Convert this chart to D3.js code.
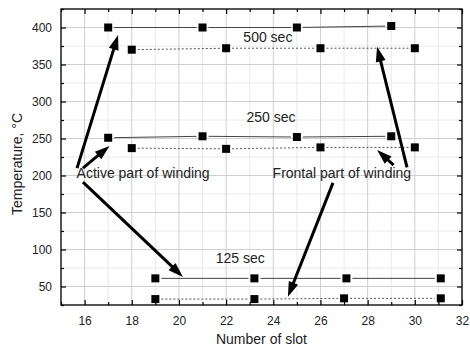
<!DOCTYPE html>
<html>
<head>
<meta charset="utf-8">
<script src="https://cdn.jsdelivr.net/npm/d3@7"></script>
<style>
  body { margin: 0; background: #fff; }
  svg { display: block; font-family: "Liberation Sans", Arial, sans-serif; }
</style>
</head>
<body>
<svg id="chart" width="470" height="347"></svg>
<script>
// slots and temperatures
const slotsActive = [17, 21, 25, 29];
const slotsFrontal = [18, 22, 26, 30];
const slots125Active = [19, 23.2, 27.1, 31.1];
const slots125Frontal = [19, 23.2, 27, 31.1];

const temp500Active = [400, 400, 400, 402];
const temp500Frontal = [370, 372, 372, 372];
const temp250Active = [251, 253, 252, 253];
const temp250Frontal = [237, 236, 238, 238];
const temp125Active = [61, 61, 61, 61];
const temp125Frontal = [33, 33, 34, 34];

const xTicks = [16, 18, 20, 22, 24, 26, 28, 30, 32];
const yTicks = [50, 100, 150, 200, 250, 300, 350, 400];

const series = [
  { xs: slotsActive, ys: temp500Active, dashed: false },
  { xs: slotsFrontal, ys: temp500Frontal, dashed: true },
  { xs: slotsActive, ys: temp250Active, dashed: false },
  { xs: slotsFrontal, ys: temp250Frontal, dashed: true },
  { xs: slots125Active, ys: temp125Active, dashed: false },
  { xs: slots125Frontal, ys: temp125Frontal, dashed: true },
];

// annotations in data units: [x, y, text]
const labels = [
  [23.77, 380, '500 sec', 'middle'],
  [23.9, 272, '250 sec', 'middle'],
  [22.6, 82, '125 sec', 'middle'],
  [15.66, 196.5, 'Active part of winding', 'start'],
  [23.97, 196.5, 'Frontal part of winding', 'start'],
];

// arrows in data units: tail -> tip
const arrows = [
  [15.68, 210, 17.42, 390],
  [15.93, 210, 17.06, 240],
  [15.93, 191, 20.17, 63],
  [29.67, 211, 28.4, 374],
  [29.1, 214, 28.4, 234.5],
  [26.53, 190, 24.62, 36],
];

const margin = { top: 9, right: 8, bottom: 42, left: 61 };
const width = 470, height = 347;

const svg = d3.select('#chart');

const x = d3.scaleLinear().domain([15, 32]).range([margin.left, width - margin.right]);
const y = d3.scaleLinear().domain([25, 425]).range([height - margin.bottom, margin.top]);

const [x0, x1] = x.range();
const [y0, y1] = y.range();

// grid, minor first then major
const minorX = d3.range(15, 33, 1).filter(v => v % 2 !== 0);
const minorY = d3.range(25, 426, 25).filter(v => v % 50 !== 0);

const grid = svg.append('g');
grid.selectAll('.mx').data(minorX).join('line')
  .attr('x1', d => x(d)).attr('x2', d => x(d)).attr('y1', y0).attr('y2', y1)
  .attr('stroke', '#eaeaea').attr('stroke-width', 1);
grid.selectAll('.my').data(minorY).join('line')
  .attr('y1', d => y(d)).attr('y2', d => y(d)).attr('x1', x0).attr('x2', x1)
  .attr('stroke', '#eaeaea').attr('stroke-width', 1);
grid.selectAll('.gx').data(xTicks).join('line')
  .attr('x1', d => x(d)).attr('x2', d => x(d)).attr('y1', y0).attr('y2', y1)
  .attr('stroke', '#cfcfcf').attr('stroke-width', 1);
grid.selectAll('.gy').data(yTicks).join('line')
  .attr('y1', d => y(d)).attr('y2', d => y(d)).attr('x1', x0).attr('x2', x1)
  .attr('stroke', '#cfcfcf').attr('stroke-width', 1);

// axes: ticks pointing in, on all four sides
const tickFmt = d3.format('d');
const axisStyle = g => {
  g.select('.domain').remove();
  g.selectAll('.tick line').attr('stroke', '#000').attr('stroke-width', 1.2);
  g.selectAll('.tick text').attr('font-size', 12).attr('fill', '#222')
    .attr('font-family', '"Liberation Sans", Arial, sans-serif');
};

svg.append('g').attr('transform', `translate(0,${y0})`)
  .call(d3.axisBottom(x).tickValues(xTicks).tickFormat(tickFmt).tickSizeInner(-5).tickPadding(11))
  .call(axisStyle);
svg.append('g').attr('transform', `translate(0,${y0})`)
  .call(d3.axisBottom(x).tickValues(minorX).tickFormat('').tickSizeInner(-3))
  .call(axisStyle);
svg.append('g').attr('transform', `translate(0,${y1})`)
  .call(d3.axisTop(x).tickValues(xTicks).tickFormat('').tickSizeInner(-5))
  .call(axisStyle);
svg.append('g').attr('transform', `translate(0,${y1})`)
  .call(d3.axisTop(x).tickValues(minorX).tickFormat('').tickSizeInner(-3))
  .call(axisStyle);
svg.append('g').attr('transform', `translate(${x0},0)`)
  .call(d3.axisLeft(y).tickValues(yTicks).tickFormat(tickFmt).tickSizeInner(-5).tickPadding(9))
  .call(axisStyle);
svg.append('g').attr('transform', `translate(${x0},0)`)
  .call(d3.axisLeft(y).tickValues(minorY).tickFormat('').tickSizeInner(-3))
  .call(axisStyle);
svg.append('g').attr('transform', `translate(${x1},0)`)
  .call(d3.axisRight(y).tickValues(yTicks).tickFormat('').tickSizeInner(-5))
  .call(axisStyle);
svg.append('g').attr('transform', `translate(${x1},0)`)
  .call(d3.axisRight(y).tickValues(minorY).tickFormat('').tickSizeInner(-3))
  .call(axisStyle);

// frame
svg.append('rect')
  .attr('x', x0).attr('y', y1).attr('width', x1 - x0).attr('height', y0 - y1)
  .attr('fill', 'none').attr('stroke', '#000').attr('stroke-width', 1.3);

// lines with a small gap at each symbol
const gap = 6;
series.forEach(s => {
  const pts = s.xs.map((v, i) => [x(v), y(s.ys[i])]);
  const segs = d3.pairs(pts).map(([a, b]) => {
    const dx = b[0] - a[0], dy = b[1] - a[1];
    const len = Math.hypot(dx, dy);
    const ux = dx / len, uy = dy / len;
    return [a[0] + ux * gap, a[1] + uy * gap, b[0] - ux * gap, b[1] - uy * gap];
  });
  svg.append('g').selectAll('line').data(segs).join('line')
    .attr('x1', d => d[0]).attr('y1', d => d[1])
    .attr('x2', d => d[2]).attr('y2', d => d[3])
    .attr('stroke', s.dashed ? '#555' : '#444')
    .attr('stroke-width', 1)
    .attr('stroke-dasharray', s.dashed ? '2,2' : null);

  svg.append('g').selectAll('rect').data(pts).join('rect')
    .attr('x', d => d[0] - 4).attr('y', d => d[1] - 4)
    .attr('width', 8).attr('height', 8)
    .attr('fill', '#000');
});

// text labels
svg.append('g').selectAll('text').data(labels).join('text')
  .attr('x', d => x(d[0])).attr('y', d => y(d[1]))
  .attr('text-anchor', d => d[3])
  .attr('font-size', 14).attr('fill', '#222')
  .text(d => d[2]);

// arrows
const headLen = 15, headHalf = 5;
const ag = svg.append('g');
arrows.forEach(a => {
  const tx = x(a[0]), ty = y(a[1]), hx = x(a[2]), hy = y(a[3]);
  const dx = hx - tx, dy = hy - ty;
  const len = Math.hypot(dx, dy);
  const ux = dx / len, uy = dy / len;
  const bx = hx - ux * headLen, by = hy - uy * headLen;
  ag.append('line')
    .attr('x1', tx).attr('y1', ty).attr('x2', bx + ux * 2).attr('y2', by + uy * 2)
    .attr('stroke', '#000').attr('stroke-width', 3);
  ag.append('path')
    .attr('d', `M${hx},${hy}L${bx - uy * headHalf},${by + ux * headHalf}L${bx + uy * headHalf},${by - ux * headHalf}Z`)
    .attr('fill', '#000');
});

// axis titles
svg.append('text')
  .attr('x', (x0 + x1) / 2).attr('y', 344)
  .attr('text-anchor', 'middle').attr('font-size', 14).attr('fill', '#222')
  .text('Number of slot');
svg.append('text')
  .attr('transform', `translate(22,164) rotate(-90)`)
  .attr('text-anchor', 'middle').attr('font-size', 14).attr('fill', '#222')
  .text('Temperature, °C');
</script>
</body>
</html>
